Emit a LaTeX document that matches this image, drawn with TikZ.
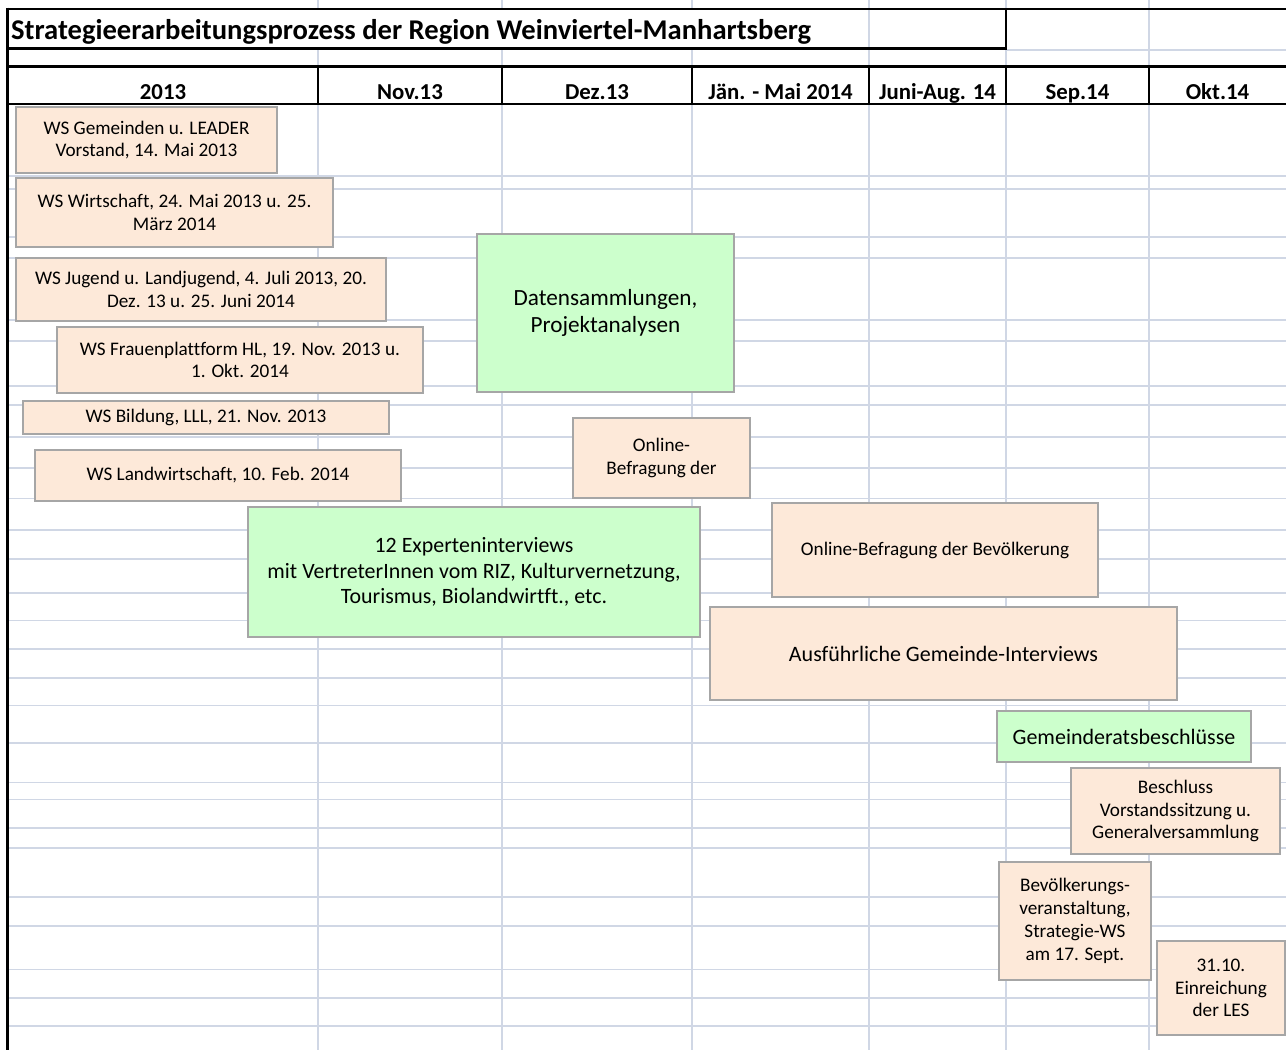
\documentclass[tikz,border=0pt]{standalone}
\usepackage{fontspec}
\setmainfont{Carlito}[Ligatures=NoCommon]
\definecolor{gridc}{RGB}{208,215,229}
\definecolor{peach}{RGB}{253,233,217}
\definecolor{mint}{RGB}{204,255,204}
\definecolor{bord}{RGB}{166,166,166}
\tikzset{
 gridline/.style={draw=gridc, line width=1.8pt},
 blackline/.style={draw=black, line width=2.8pt},
 peachbox/.style={draw=bord, fill=peach, line width=2.4pt, inner sep=0pt, align=center, font=\fontsize{19.2}{22.8}\selectfont},
 mintbox/.style={draw=bord, fill=mint, line width=2.4pt, inner sep=0pt, align=center},
 headlabel/.style={anchor=base, font=\bfseries\fontsize{22.8}{26}\selectfont, inner sep=0pt},
}
\newcommand\mkbox[7]{\node[#6, minimum width={(#4-#2)*1pt}, minimum height={(#5-#3)*1pt}] (#1) at ({(#2+#4)/2},{(#3+#5)/2}) {#7};}
\begin{document}
\begin{tikzpicture}[x=1pt,y=-1pt]
\useasboundingbox (0,0) rectangle (1286,1050);
% grid horizontals
\foreach \yy in {176,189,237,258,320,341,386,405,437,468,498.5,530,559,593,620.5,649,678,705.5,743,782.5,799.5,828,848,897,926,969.5,998,1026}
  \draw[gridline] (8,\yy) -- (1286,\yy);
\draw[gridline] (1006,50) -- (1286,50);
% grid verticals
\foreach \xx in {318,502,692,869,1006,1149}{
  \draw[gridline] (\xx,0) -- (\xx,9);
  \draw[gridline] (\xx,48) -- (\xx,1050);
}
\draw[gridline] (869,9) -- (869,48);
\draw[gridline] (1149,9) -- (1149,48);
% black frame lines
\draw[blackline] (8,9) -- (1286,9);
\draw[blackline] (7.5,7.6) -- (7.5,1050);
\draw[blackline] (1006,9) -- (1006,48.5);
\draw[blackline] (8,48.5) -- (1007.4,48.5);
\draw[blackline] (8,66.5) -- (1286,66.5);
\draw[blackline] (8,104) -- (1286,104);
\foreach \xx in {318,502,692,869,1006,1149}
  \draw[blackline] (\xx,66.5) -- (\xx,104);
% title and headers
\node[anchor=base west, inner sep=0pt, font=\bfseries\fontsize{28.6}{33}\selectfont] (title) at (11,39.5) {Strategieerarbeitungsprozess der Region Weinviertel-Manhartsberg};
\node[headlabel] (h1) at (163,99.5) {2013};
\node[headlabel] (h2) at (410,99.5) {Nov.13};
\node[headlabel] (h3) at (597,99.5) {Dez.13};
\node[headlabel] (h4) at (780.5,99.5) {Jän. - Mai 2014};
\node[headlabel] (h5) at (937.5,99.5) {Juni-Aug. 14};
\node[headlabel] (h6) at (1077.5,99.5) {Sep.14};
\node[headlabel] (h7) at (1217.5,99.5) {Okt.14};
% boxes
\mkbox{b1}{16}{107}{277}{173}{peachbox}{WS Gemeinden u. LEADER\\Vorstand, 14. Mai 2013}
\mkbox{b2}{16}{178}{333}{247}{peachbox}{WS Wirtschaft, 24. Mai 2013 u. 25.\\März 2014}
\mkbox{b3}{16}{258}{386}{321}{peachbox}{WS Jugend u. Landjugend, 4. Juli 2013, 20.\\Dez. 13 u. 25. Juni 2014}
\mkbox{b4}{57}{327}{423}{393}{peachbox}{WS Frauenplattform HL, 19. Nov. 2013 u.\\1. Okt. 2014}
\mkbox{b5}{23}{401}{389}{434}{peachbox}{WS Bildung, LLL, 21. Nov. 2013}
\mkbox{b6}{35}{450}{401}{501}{peachbox}{WS Landwirtschaft, 10. Feb. 2014}
\mkbox{g1}{477}{234}{734}{392}{mintbox, font=\fontsize{23.2}{27.6}\selectfont}{Datensammlungen,\\Projektanalysen}
\mkbox{b7}{573}{418}{750}{498}{peachbox}{Online-\\Befragung der}
\mkbox{g2}{248}{507}{700}{637}{mintbox, font=\fontsize{21.9}{25.5}\selectfont}{12 Experteninterviews\\mit VertreterInnen vom RIZ, Kulturvernetzung,\\Tourismus, Biolandwirtft., etc.}
\mkbox{b8}{772}{503}{1098}{597}{peachbox}{Online-Befragung der Bevölkerung}
\mkbox{b9}{710}{607}{1177}{700}{peachbox, font=\fontsize{22}{26}\selectfont}{Ausführliche Gemeinde-Interviews}
\mkbox{g3}{997}{711}{1251}{762}{mintbox, font=\fontsize{22}{26}\selectfont}{Gemeinderatsbeschlüsse}
\mkbox{b10}{1071}{768}{1280}{854}{peachbox}{Beschluss\\Vorstandssitzung u.\\Generalversammlung}
\mkbox{b11}{999}{862}{1151}{980}{peachbox}{Bevölkerungs-\\veranstaltung,\\Strategie-WS\\am 17. Sept.}
\mkbox{b12}{1157}{941}{1285}{1035}{peachbox}{31.10.\\Einreichung\\der LES}
\end{tikzpicture}
\end{document}
